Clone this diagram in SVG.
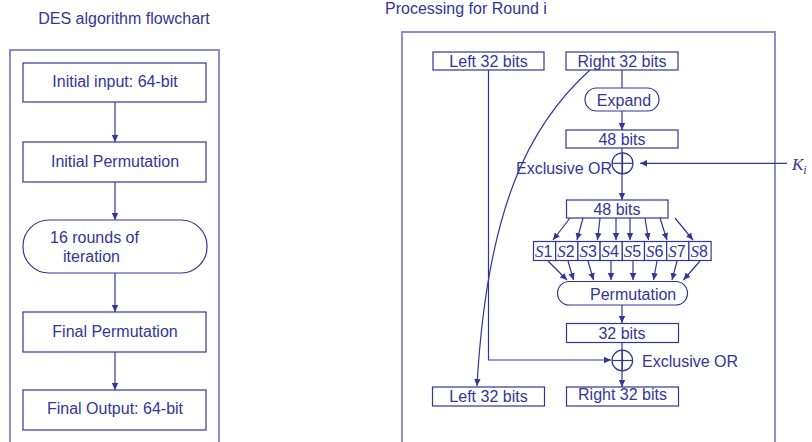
<svg xmlns="http://www.w3.org/2000/svg" width="812" height="442" viewBox="0 0 812 442">
<style>
text{font-family:"Liberation Sans",Arial,sans-serif;font-size:16px;fill:#33359a}
.t{text-anchor:middle}
.frame{fill:none;stroke:#8e8ecc;stroke-width:2}
.box{fill:#fff;stroke:#33359a;stroke-width:1.2}
.ln{fill:none;stroke:#33359a;stroke-width:1.2}
.arr{fill:none;stroke:#33359a;stroke-width:1.2;marker-end:url(#ah)}
.ser{font-family:"Liberation Serif","Times New Roman",serif;font-style:italic;font-size:17px}
</style>
<defs>
<marker id="ah" markerWidth="8" markerHeight="8" refX="7" refY="4" orient="auto" markerUnits="userSpaceOnUse">
<path d="M0,0.8 L7,4 L0,7.2 z" fill="#33359a"/>
</marker>
</defs>

<text x="124" y="24" class="t">DES algorithm flowchart</text>
<text x="385" y="14">Processing for Round i</text>

<rect class="frame" x="10" y="50" width="209" height="400"/>
<rect class="frame" x="402" y="32" width="373" height="420"/>

<g id="connectors">
<line class="arr" x1="115" y1="102" x2="115" y2="142"/>
<line class="arr" x1="115" y1="182" x2="115" y2="220"/>
<line class="arr" x1="115" y1="273" x2="115" y2="312"/>
<line class="arr" x1="115" y1="352" x2="115" y2="390"/>

<line class="ln" x1="622" y1="70" x2="622" y2="88"/>
<line class="arr" x1="622" y1="111" x2="622" y2="130"/>
<line class="ln" x1="622" y1="148" x2="622" y2="174"/>
<line class="arr" x1="622" y1="174" x2="622" y2="200"/>
<line class="arr" x1="787" y1="163.3" x2="640" y2="163.3"/>

<line class="arr" x1="570" y1="218" x2="553" y2="240"/>
<line class="arr" x1="583" y1="218" x2="577" y2="240"/>
<line class="arr" x1="600" y1="218" x2="597.5" y2="240"/>
<line class="arr" x1="616" y1="218" x2="616" y2="240"/>
<line class="arr" x1="630" y1="218" x2="630" y2="240"/>
<line class="arr" x1="645" y1="218" x2="648.5" y2="240"/>
<line class="arr" x1="660" y1="218" x2="667" y2="240"/>
<line class="arr" x1="675" y1="218" x2="693" y2="240"/>

<line class="arr" x1="548" y1="261" x2="567" y2="280"/>
<line class="arr" x1="568" y1="261" x2="573.5" y2="280"/>
<line class="arr" x1="588" y1="261" x2="593.5" y2="280"/>
<line class="arr" x1="611" y1="261" x2="611" y2="280"/>
<line class="arr" x1="633" y1="261" x2="633" y2="280"/>
<line class="arr" x1="657" y1="261" x2="653.5" y2="280"/>
<line class="arr" x1="677" y1="261" x2="672" y2="280"/>
<line class="arr" x1="700" y1="261" x2="683.5" y2="280"/>

<line class="arr" x1="622" y1="305" x2="622" y2="323"/>
<line class="ln" x1="622" y1="342" x2="622" y2="371"/>
<line class="arr" x1="622" y1="371" x2="622" y2="387"/>
<polyline class="arr" points="488.5,70 488.5,360 611,360"/>
<path class="arr" d="M590,70 C530,124 487,206 477,386"/>
</g>

<g id="n1"><rect class="box" x="23" y="63" width="183" height="39"/><text x="115" y="87" class="t">Initial input: 64-bit</text></g>
<g id="n2"><rect class="box" x="23" y="142" width="183" height="40"/><text x="115" y="167" class="t">Initial Permutation</text></g>
<g id="n3"><rect class="box" x="23" y="220" width="184" height="53" rx="26" ry="26"/><text x="50" y="243">16 rounds of</text><text x="63" y="262">iteration</text></g>
<g id="n4"><rect class="box" x="23" y="312" width="183" height="40"/><text x="115" y="337" class="t">Final Permutation</text></g>
<g id="n5"><rect class="box" x="23" y="390" width="183" height="40"/><text x="115" y="414" class="t">Final Output: 64-bit</text></g>

<g id="left-in"><rect class="box" x="433" y="52" width="111" height="18"/><text x="488.5" y="66.5" class="t">Left 32 bits</text></g>
<g id="right-in"><rect class="box" x="566" y="52" width="112" height="18"/><text x="622" y="66.5" class="t">Right 32 bits</text></g>
<g id="expand"><rect class="box" x="585" y="88" width="74" height="23" rx="11.5" ry="11.5"/><text x="624" y="106" class="t">Expand</text></g>
<g id="b48a"><rect class="box" x="566" y="130" width="112" height="18"/><text x="622" y="145" class="t">48 bits</text></g>
<g id="xor1"><circle class="ln" cx="622.5" cy="163.3" r="10.5"/><line class="ln" x1="612" y1="163.3" x2="633" y2="163.3"/><line class="ln" x1="622.5" y1="152.8" x2="622.5" y2="173.8"/><text x="612" y="174" text-anchor="end">Exclusive OR</text></g>
<g id="ki"><text x="792" y="170" class="ser" font-size="18">K<tspan font-size="12" dy="4">i</tspan></text></g>
<g id="b48b"><rect class="box" x="566.5" y="200" width="101.5" height="18"/><text x="617" y="215" class="t">48 bits</text></g>
<g id="sboxes">
<rect class="box" x="533.5" y="241.5" width="22.2" height="19"/>
<rect class="box" x="555.7" y="241.5" width="22.2" height="19"/>
<rect class="box" x="577.9" y="241.5" width="22.2" height="19"/>
<rect class="box" x="600.1" y="241.5" width="22.2" height="19"/>
<rect class="box" x="622.3" y="241.5" width="22.2" height="19"/>
<rect class="box" x="644.5" y="241.5" width="22.2" height="19"/>
<rect class="box" x="666.7" y="241.5" width="22.2" height="19"/>
<rect class="box" x="688.9" y="241.5" width="22.2" height="19"/>
<text x="535" y="257"><tspan class="ser">S</tspan>1</text>
<text x="557.2" y="257"><tspan class="ser">S</tspan>2</text>
<text x="579.4" y="257"><tspan class="ser">S</tspan>3</text>
<text x="601.6" y="257"><tspan class="ser">S</tspan>4</text>
<text x="623.8" y="257"><tspan class="ser">S</tspan>5</text>
<text x="646" y="257"><tspan class="ser">S</tspan>6</text>
<text x="668.2" y="257"><tspan class="ser">S</tspan>7</text>
<text x="690.4" y="257"><tspan class="ser">S</tspan>8</text>
</g>
<g id="perm"><rect class="box" x="557.5" y="281.5" width="130" height="23.5" rx="11.7" ry="11.7"/><text x="590" y="299.5">Permutation</text></g>
<g id="b32"><rect class="box" x="566.5" y="323.5" width="112" height="19"/><text x="622" y="338.5" class="t">32 bits</text></g>
<g id="xor2"><circle class="ln" cx="622.3" cy="360.5" r="10.3"/><line class="ln" x1="612" y1="360.5" x2="632.6" y2="360.5"/><line class="ln" x1="622.3" y1="350.2" x2="622.3" y2="370.8"/><text x="642" y="367">Exclusive OR</text></g>
<g id="left-out"><rect class="box" x="432.5" y="387" width="112" height="19"/><text x="488.5" y="402" class="t">Left 32 bits</text></g>
<g id="right-out"><rect class="box" x="566.5" y="387" width="112" height="19"/><text x="622.5" y="400" class="t">Right 32 bits</text></g>
</svg>
